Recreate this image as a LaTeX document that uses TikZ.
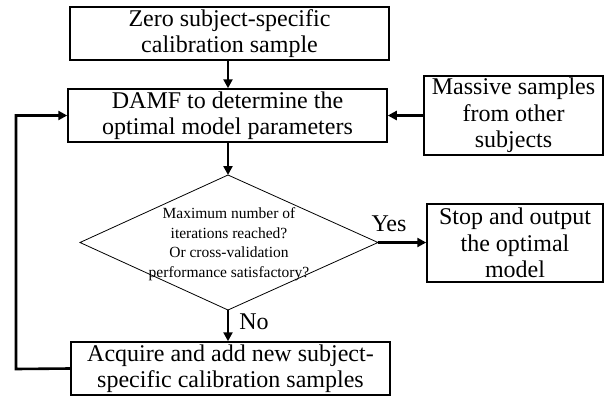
\documentclass[tikz,border=0pt]{standalone}
\usepackage{fontspec}
\setmainfont{Liberation Serif}
\usetikzlibrary{arrows.meta}
\begin{document}
\begin{tikzpicture}[x=1pt,y=-1pt,
  box/.style={draw,line width=1.5pt,inner sep=0pt,align=center,
    font=\fontsize{24}{26.5}\selectfont},
  arr/.style={line width=2.6pt,-{Triangle[length=9pt,width=9pt]}},
  lbl/.style={font=\fontsize{24}{26}\selectfont,inner sep=0pt}]
\useasboundingbox (0,0) rectangle (605,399);
\node[box,minimum width=319pt,minimum height=53pt] (zero) at (229.5,33.5)
  {Zero subject-specific\\calibration sample};
\node[box,minimum width=319pt,minimum height=53pt] (damf) at (227.5,115.5)
  {DAMF to determine the\\optimal model parameters};
\node[box,minimum width=179pt,minimum height=79pt] (mass) at (513.5,115.5)
  {Massive samples\\from other\\subjects};
\node[box,minimum width=176pt,minimum height=78pt] (stop) at (515,243)
  {Stop and output\\the optimal\\model};
\node[box,minimum width=319pt,minimum height=53pt] (acq) at (230.5,368.5)
  {Acquire and add new subject-\\specific calibration samples};
\coordinate (dt) at (228,175);
\coordinate (db) at (228,310);
\coordinate (dl) at (80,242.5);
\coordinate (dr) at (378,242.5);
\draw[line width=0.8pt] (dt) -- (dr) -- (db) -- (dl) -- cycle;
\node[align=center,inner sep=0pt,font=\fontsize{15.5}{19.5}\selectfont] (q) at (229,244)
  {Maximum number of\\iterations reached?\\Or cross-validation\\performance satisfactory?};
\coordinate (lb) at (16,369);
\coordinate (lt) at (16,115.5);
\draw[arr] (zero.south -| 228,0) -- (damf.north -| 228,0);
\draw[arr] (damf.south -| dt) -- (dt);
\draw[arr] (mass.west) -- (damf.east |- mass.west);
\draw[arr] (dr) -- (stop.west |- dr);
\draw[arr] (db) -- (acq.north -| db);
\draw[arr] (acq.west) -- (lb) -- (lt) -- (damf.west);
\node[lbl] (yes) at (389,224) {Yes};
\node[lbl] (no) at (254,322) {No};
\end{tikzpicture}
\end{document}
